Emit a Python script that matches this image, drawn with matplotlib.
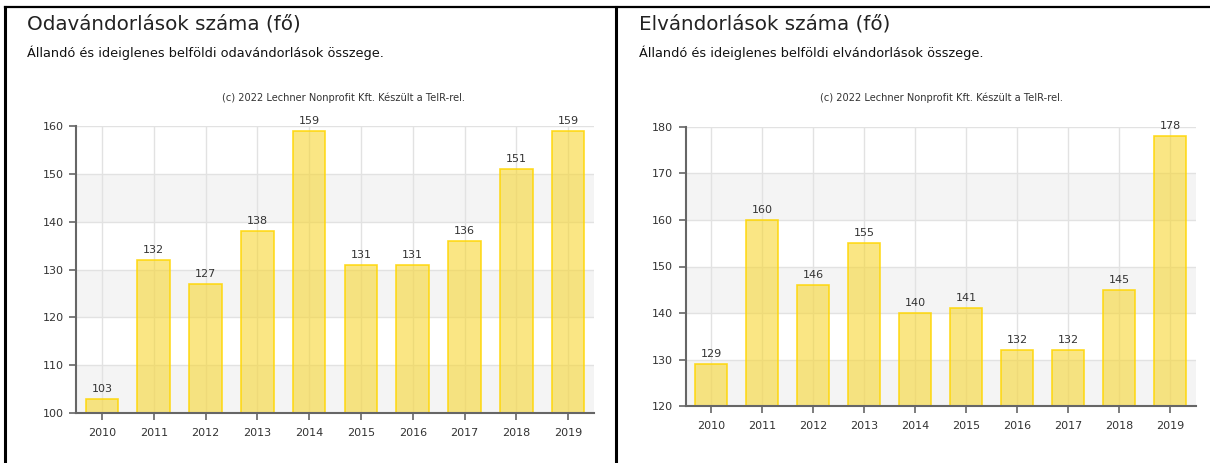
import matplotlib.pyplot as plt
from matplotlib.lines import Line2D

years = ['2010', '2011', '2012', '2013', '2014', '2015', '2016', '2017', '2018', '2019']
odavandorlas = [103, 132, 127, 138, 159, 131, 131, 136, 151, 159]
elvandorlas = [129, 160, 146, 155, 140, 141, 132, 132, 145, 178]

left_title = 'Odavándorlások száma (fő)'
left_sub = 'Állandó és ideiglenes belföldi odavándorlások összege.'
right_title = 'Elvándorlások száma (fő)'
right_sub = 'Állandó és ideiglenes belföldi elvándorlások összege.'
credit = '(c) 2022 Lechner Nonprofit Kft. Készült a TeIR-rel.'

W, H = 1210, 463
fig = plt.figure(figsize=(W / 100, H / 100), dpi=100)
plt.rcParams['font.family'] = ['DejaVu Sans']

TEXT = '#333333'
AXIS = '#666666'


def px(x, y):
    return x / W, 1 - y / H


def draw(rect, values, ymin, ymax):
    ax = fig.add_axes(rect)
    x = range(len(years))
    # alternating bands
    for i, lo in enumerate(range(ymin, ymax, 10)):
        if i % 2 == 0:
            ax.axhspan(lo, lo + 10, color='#f4f4f4', zorder=0, lw=0)
    for lo in range(ymin + 10, ymax + 1, 10):
        ax.axhline(lo, color='#e2e2e2', lw=1, zorder=1)
    for xi in x:
        ax.axvline(xi, color='#e2e2e2', lw=1, zorder=1)
    ax.bar(x, [v - ymin for v in values], bottom=ymin, width=0.63,
           color=(0.97, 0.84, 0.2, 0.6), edgecolor=(1.0, 0.84, 0.0, 0.85),
           linewidth=1.2, zorder=2)
    for xi, v in zip(x, values):
        ax.annotate(str(v), (xi, v), xytext=(0, 3.5), textcoords='offset points',
                    ha='center', va='bottom', fontsize=8, color=TEXT)
    ax.set_xlim(-0.5, len(years) - 0.5)
    ax.set_ylim(ymin, ymax)
    ax.set_xticks(list(x))
    ax.set_xticklabels(years)
    ax.set_yticks(range(ymin, ymax + 1, 10))
    ax.tick_params(axis='both', length=5, width=1.2, color=AXIS,
                   labelsize=8, labelcolor=TEXT)
    ax.tick_params(axis='x', pad=6)
    ax.tick_params(axis='y', pad=4)
    for s in ['top', 'right']:
        ax.spines[s].set_visible(False)
    for s in ['left', 'bottom']:
        ax.spines[s].set_color(AXIS)
        ax.spines[s].set_linewidth(1.5)
        ax.spines[s].set_zorder(3)
    ax.set_facecolor('white')
    return ax


draw([76 / W, 50 / H, 518 / W, 287 / H], odavandorlas, 100, 160)
draw([685.5 / W, 57 / H, 510 / W, 279 / H], elvandorlas, 120, 180)

# headings
fig.text(*px(27, 29), left_title, fontsize=14.3, color='#222222', va='baseline')
fig.text(*px(27, 57), left_sub, fontsize=9.3, color='#111111', va='baseline')
fig.text(*px(343, 101), credit, fontsize=7.1, color=TEXT, va='baseline', ha='center')

fig.text(*px(639, 29), right_title, fontsize=14.3, color='#222222', va='baseline')
fig.text(*px(639, 57), right_sub, fontsize=9.3, color='#111111', va='baseline')
fig.text(*px(942, 101), credit, fontsize=7.1, color=TEXT, va='baseline', ha='center')

# frame lines
fig.add_artist(Line2D([5 / W, 1 - 1 / W], [1 - 7 / H] * 2, color='black', lw=1.6))
fig.add_artist(Line2D([5 / W] * 2, [0, 1 - 7 / H], color='black', lw=2.2))
fig.add_artist(Line2D([616 / W] * 2, [0, 1 - 7 / H], color='black', lw=2.2))

fig.savefig('out.png', dpi=100)
